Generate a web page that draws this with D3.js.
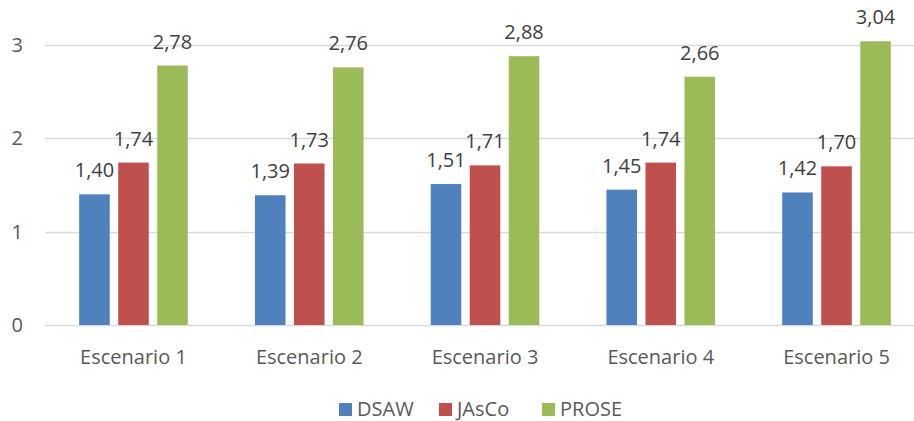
<!DOCTYPE html>
<html>
<head>
<meta charset="utf-8">
<script src="https://cdn.jsdelivr.net/npm/d3@7"></script>
<style>
  body { margin: 0; background: #fff; }
  text { font-family: "Open Sans", sans-serif; }
</style>
</head>
<body>
<div id="chart"></div>
<script>
// data
var escenarios = ["Escenario 1", "Escenario 2", "Escenario 3", "Escenario 4", "Escenario 5"];
var series = ["DSAW", "JAsCo", "PROSE"];
var dsaw  = [1.40, 1.39, 1.51, 1.45, 1.42];
var jasco = [1.74, 1.73, 1.71, 1.74, 1.70];
var prose = [2.78, 2.76, 2.88, 2.66, 3.04];
var yTicks = [0, 1, 2, 3];
var colors = ["#4F81BD", "#C0504D", "#9BBB59"];

var W = 914, H = 421;

var svg = d3.select("#chart")
  .append("svg")
  .attr("width", W)
  .attr("height", H);

// the plot area runs a bit past the right edge, like the original crop
var x = d3.scaleBand()
  .domain(escenarios)
  .range([45.6, 924.4]);

var y = d3.scaleLinear()
  .domain([0, 3.5])
  .range([325, -1.7]);

var bw = x.bandwidth();
var barW = bw * 0.174;
var step = bw * 0.222;

// gridlines
svg.append("g")
  .selectAll("line")
  .data(yTicks)
  .enter()
  .append("line")
    .attr("x1", 45)
    .attr("x2", W)
    .attr("y1", d => Math.round(y(d)) + 0.5)
    .attr("y2", d => Math.round(y(d)) + 0.5)
    .style("stroke", "#D9D9D9")
    .style("stroke-width", 1.3);

// y axis labels
svg.append("g")
  .selectAll("text")
  .data(yTicks)
  .enter()
  .append("text")
    .attr("x", 23)
    .attr("y", d => y(d))
    .attr("dy", "0.35em")
    .attr("text-anchor", "end")
    .style("font-size", "20px")
    .style("fill", "#595959")
    .text(d => d);

// rows of [category, series index, value]
var rows = [];
escenarios.forEach(function(c, i) {
  [dsaw, jasco, prose].forEach(function(vals, s) {
    rows.push({cat: c, s: s, v: vals[i]});
  });
});

var fmt = d3.format(".2f");

function barX(d) {
  return x(d.cat) + bw / 2 + (d.s - 1) * step - barW / 2;
}

svg.append("g")
  .selectAll("rect")
  .data(rows)
  .enter()
  .append("rect")
    .attr("x", barX)
    .attr("y", d => y(d.v))
    .attr("width", barW)
    .attr("height", d => y(0) - y(d.v))
    .style("fill", d => colors[d.s]);

// value labels
svg.append("g")
  .selectAll("text")
  .data(rows)
  .enter()
  .append("text")
    .attr("x", d => barX(d) + barW / 2)
    .attr("y", d => y(d.v) - 17)
    .attr("text-anchor", "middle")
    .style("font-size", "20px")
    .style("fill", "#404040")
    .text(d => fmt(d.v).replace(".", ","));

// x axis labels
svg.append("g")
  .selectAll("text")
  .data(escenarios)
  .enter()
  .append("text")
    .attr("x", d => x(d) + bw / 2)
    .attr("y", 364)
    .attr("text-anchor", "middle")
    .style("font-size", "20px")
    .style("fill", "#595959")
    .text(d => d);

// legend
var legendX = [339, 439, 542];
var legend = svg.append("g")
  .selectAll("g")
  .data(series)
  .enter()
  .append("g")
    .attr("transform", (d, i) => "translate(" + legendX[i] + ",403)");

legend.append("rect")
  .attr("width", 13)
  .attr("height", 13)
  .style("fill", (d, i) => colors[i]);

legend.append("text")
  .attr("x", 18)
  .attr("y", 13)
  .style("font-size", "20px")
  .style("fill", "#595959")
  .text(d => d);
</script>
</body>
</html>
